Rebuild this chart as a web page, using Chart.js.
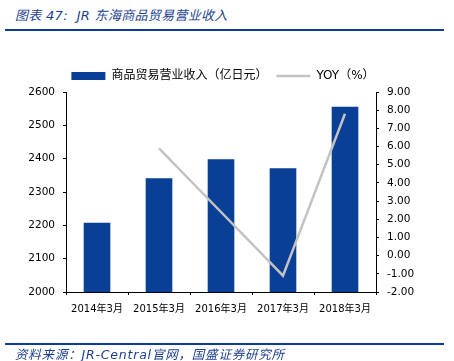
<!DOCTYPE html>
<html>
<head>
<meta charset="utf-8">
<script src="https://cdn.jsdelivr.net/npm/chart.js@4.4.1/dist/chart.umd.min.js"></script>
<style>
  html, body { margin: 0; padding: 0; background: #fff; }
  #wrap { position: relative; width: 454px; height: 361px; overflow: hidden; }
  #chart { position: absolute; left: 0; top: 0; }
  .title {
    position: absolute; left: 15px; top: 5px;
    font: italic 13px "DejaVu Sans", "Noto Sans CJK SC", sans-serif;
    color: #1d3f8f; letter-spacing: 0.3px;
  }
  .rule { position: absolute; left: 5px; width: 439px; height: 2px; background: #0a3c9c; }
  .source {
    position: absolute; left: 15px; top: 344px;
    font: italic 12.5px "DejaVu Sans", "Noto Sans CJK SC", sans-serif;
    color: #1d3f8f; letter-spacing: 0.8px;
  }
</style>
</head>
<body>
<div id="wrap">
  <div class="title">图表 47:&nbsp; JR 东海商品贸易营业收入</div>
  <div class="rule" style="top:29px"></div>
  <canvas id="chart" width="454" height="361"></canvas>
  <div class="rule" style="top:343px"></div>
  <div class="source">资料来源：JR-Central官网，国盛证券研究所</div>
</div>
<script>
// datos
const categories = ["2014年3月", "2015年3月", "2016年3月", "2017年3月", "2018年3月"];
const revenue = [2208, 2341, 2398, 2371, 2556];   // 亿日元
const yoy = [null, 5.9, 2.4, -1.1, 7.8];          // %
const leftTicks = [2000, 2100, 2200, 2300, 2400, 2500, 2600];
const rightTicks = [-2, -1, 0, 1, 2, 3, 4, 5, 6, 7, 8, 9];

const fontFamily = '"DejaVu Sans", "Noto Sans CJK SC", sans-serif';

const ctx = document.getElementById("chart").getContext("2d");
new Chart(ctx, {
  type: "bar",
  data: {
    labels: categories,
    datasets: [
      {
        type: "bar",
        label: "商品贸易营业收入（亿日元）",
        data: revenue,
        backgroundColor: "#0a3f96",
        borderWidth: 0,
        categoryPercentage: 1,
        barPercentage: 0.43,
        yAxisID: "y",
        pointStyle: "rect",
        order: 1
      },
      {
        type: "line",
        label: "YOY（%）",
        data: yoy,
        borderColor: "#c3c3c3",
        backgroundColor: "#c3c3c3",
        borderWidth: 2.5,
        pointRadius: 0,
        tension: 0,
        yAxisID: "y1",
        pointStyle: "line",
        order: 0
      }
    ]
  },
  options: {
    responsive: false,
    animation: false,
    layout: { padding: { top: 61, left: 0, right: 8, bottom: 0 } },
    plugins: {
      legend: {
        display: true,
        position: "top",
        labels: {
          usePointStyle: true,
          pointStyleWidth: 34,
          boxHeight: 8,
          padding: 9,
          color: "#000",
          font: { family: fontFamily, size: 12 },
          sort: (a, b) => a.datasetIndex - b.datasetIndex
        }
      },
      tooltip: { enabled: false }
    },
    scales: {
      x: {
        offset: true,
        grid: { display: true, drawOnChartArea: false, offset: true, color: "#000", tickLength: 3 },
        border: { color: "#000", width: 1 },
        ticks: { color: "#000", padding: 8, maxRotation: 0, font: { family: fontFamily, size: 10 } },
        afterFit: (s) => { s.height = 69; }
      },
      y: {
        position: "left",
        min: 2000,
        max: 2600,
        afterBuildTicks: (s) => { s.ticks = leftTicks.map(v => ({ value: v })); },
        grid: { display: true, drawOnChartArea: false, color: "#000", tickLength: 3 },
        border: { color: "#000", width: 1 },
        ticks: {
          color: "#000",
          padding: 8,
          font: { family: fontFamily, size: 10.5 },
          callback: (v) => String(v)
        },
        afterFit: (s) => { s.width = 66; }
      },
      y1: {
        position: "right",
        min: -2,
        max: 9,
        afterBuildTicks: (s) => { s.ticks = rightTicks.map(v => ({ value: v })); },
        grid: { display: true, drawOnChartArea: false, color: "#000", tickLength: 3 },
        border: { color: "#000", width: 1 },
        ticks: {
          color: "#000",
          padding: 8,
          font: { family: fontFamily, size: 10.5 },
          callback: (v) => Number(v).toFixed(2)
        },
        afterFit: (s) => { s.width = 70; }
      }
    }
  }
});
</script>
</body>
</html>
